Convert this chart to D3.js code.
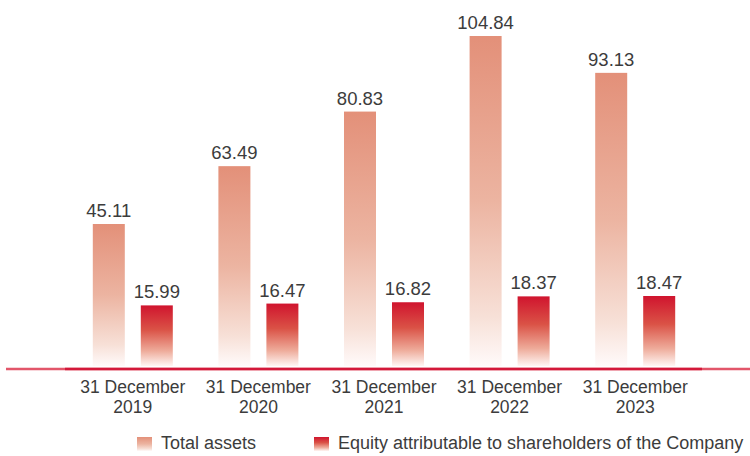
<!DOCTYPE html>
<html>
<head>
<meta charset="utf-8">
<script src="https://cdn.jsdelivr.net/npm/d3@7"></script>
<style>
  body { margin: 0; background: #fff; }
  text { font-family: "Liberation Sans", Arial, sans-serif; fill: #3c3c3c; }
</style>
</head>
<body>
<script>
var width = 750
var height = 456

var categories = ["31 December 2019", "31 December 2020", "31 December 2021", "31 December 2022", "31 December 2023"];
var totalAssets = [45.11, 63.49, 80.83, 104.84, 93.13];
var equity = [15.99, 16.47, 16.82, 18.37, 18.47];
var seriesNames = ["Total assets", "Equity attributable to shareholders of the Company"];
var seriesKeys = ["total", "equity"];

var baseY = 366;

var svg = d3.select("body").append("svg")
            .attr("width", width)
            .attr("height", height);

var defs = svg.append("defs");
function gradient(id, stops){
    var g = defs.append("linearGradient").attr("id", id)
                .attr("x1", 0).attr("y1", 0).attr("x2", 0).attr("y2", 1);
    stops.forEach(function(s){
        g.append("stop").attr("offset", s[0]).attr("stop-color", s[1]);
    });
}
gradient("gTotal", [[0, "#e39079"], [0.5, "#ecb4a1"], [0.85, "#f7e0d7"], [1, "#fffafa"]]);
gradient("gEquity", [[0, "#d0142e"], [0.4, "#da5246"], [0.75, "#eeab9a"], [1, "#fff6f4"]]);

var x0 = d3.scaleBand().domain(categories).range([70, 698]);
var x1 = d3.scaleBand().domain(seriesKeys).range([-40, 40]).paddingInner(1/3);

// the two series are drawn to separate scales in the original
var yTotal = d3.scaleLinear().domain([0, 104.84]).range([baseY, 36]);
var yEquity = d3.scaleLinear().domain([0, 18.47]).range([baseY, 296]);

var rows = categories.map(function(c, i){
    return [
        {cat: c, key: "total", value: totalAssets[i], y: yTotal},
        {cat: c, key: "equity", value: equity[i], y: yEquity}
    ];
});

var groups = svg.selectAll("g.grp").data(rows).enter().append("g")
    .attr("class", "grp")
    .attr("transform", function(d){ return "translate(" + (x0(d[0].cat) + x0.bandwidth()/2) + ",0)"; });

groups.selectAll("rect").data(function(d){ return d; }).enter().append("rect")
    .attr("x", function(d){ return x1(d.key); })
    .attr("width", x1.bandwidth())
    .attr("y", function(d){ return d.y(d.value); })
    .attr("height", function(d){ return baseY - d.y(d.value); })
    .style("fill", function(d){ return d.key == "total" ? "url(#gTotal)" : "url(#gEquity)"; });

groups.selectAll("text.val").data(function(d){ return d; }).enter().append("text")
    .attr("class", "val")
    .attr("x", function(d){ return x1(d.key) + x1.bandwidth()/2; })
    .attr("y", function(d){ return d.y(d.value) - 7; })
    .attr("text-anchor", "middle")
    .style("font-size", "18.5px")
    .text(function(d){ return d.value.toFixed(2); });

// baseline
svg.append("line").attr("x1", 6).attr("x2", 750).attr("y1", 369).attr("y2", 369)
   .attr("stroke", "#e2566a").attr("stroke-width", 2.5);
svg.append("line").attr("x1", 65).attr("x2", 702).attr("y1", 369).attr("y2", 369)
   .attr("stroke", "#d3183a").attr("stroke-width", 2.5);

// category labels
var cat = svg.selectAll("text.cat").data(categories).enter().append("text")
    .attr("class", "cat")
    .attr("text-anchor", "middle")
    .style("font-size", "17.5px")
    .attr("transform", function(d){ return "translate(" + (x0(d) + x0.bandwidth()/2) + ",0)"; });
cat.append("tspan").attr("x", 0).attr("y", 393).text(function(d){ return d.slice(0, 11); });
cat.append("tspan").attr("x", 0).attr("y", 413).text(function(d){ return d.slice(12); });

// legend
var legendX = [137, 314];
var leg = svg.selectAll("g.leg").data(seriesNames).enter().append("g")
    .attr("class", "leg")
    .attr("transform", function(d, i){ return "translate(" + legendX[i] + ",437)"; });
leg.append("rect").attr("width", 15).attr("height", 14)
   .style("fill", function(d, i){ return i == 0 ? "url(#gTotal)" : "url(#gEquity)"; });
leg.append("text").attr("x", 24).attr("y", 11.5)
   .style("font-size", "18px")
   .text(function(d){ return d; });
</script>
</body>
</html>
